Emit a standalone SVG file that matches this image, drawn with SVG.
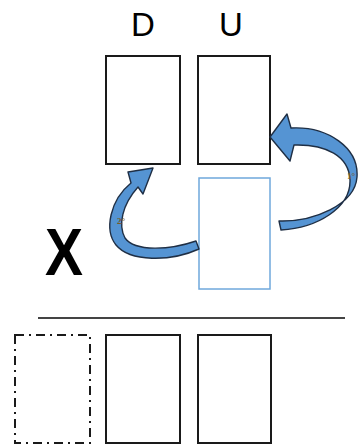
<svg xmlns="http://www.w3.org/2000/svg" width="358" height="446" viewBox="0 0 358 446">
<style>
.box{fill:#fff;stroke:#1a1a1a;stroke-width:2}
.blue{fill:#fff;stroke:#6fa8dc;stroke-width:1.5}
.dash{fill:none;stroke:#1a1a1a;stroke-width:2;stroke-dasharray:9 5 2 5}
.arrow{fill:#5594d3;stroke:#1f2f45;stroke-width:1.4;stroke-linejoin:round}
.lbl{font-family:"Liberation Sans",Arial,sans-serif;fill:#000}
.ord{font-family:"Liberation Serif",serif;font-size:9px;font-weight:bold;fill:#7a5a25}
</style>
<rect width="358" height="446" fill="#fff"/>
<g id="label-D"><text class="lbl" x="143" y="36" font-size="33" text-anchor="middle">D</text></g>
<g id="label-U"><text class="lbl" x="231" y="36" font-size="33" text-anchor="middle">U</text></g>
<g id="label-X"><text class="lbl" x="45" y="275" font-size="66" font-weight="bold" textLength="38" lengthAdjust="spacingAndGlyphs">X</text></g>
<g id="box-D"><rect class="box" x="106" y="56" width="74" height="108"/></g>
<g id="box-U"><rect class="box" x="198" y="56" width="72" height="108"/></g>
<g id="box-blue"><rect class="blue" x="199" y="178" width="71" height="111"/></g>
<g id="divider"><line x1="38" y1="318" x2="345" y2="318" stroke="#444" stroke-width="2"/></g>
<g id="box-dashed"><rect class="dash" x="15" y="335" width="75" height="108"/></g>
<g id="box-bottom-1"><rect class="box" x="106" y="335" width="74" height="108"/></g>
<g id="box-bottom-2"><rect class="box" x="198" y="335" width="73" height="108"/></g>
<g id="connectors">
<path class="arrow" d="M270 137 L287 114 L291 128 C328 126 359 148 357 177 C355 205 313 222 279 221 L281 230 C317 228 351 208 350 180 C349 156 326 144 294 145 L290 161 Z"/>
<path class="arrow" d="M153 168 L143 194 L138 187 C122 205 118 225 125 238 C135 252 170 250 196 241 L199 249 C170 262 130 262 116 245 C104 230 110 200 131 183 L128 172 Z"/>
<text class="ord" x="347" y="179">1°</text>
<text class="ord" x="117" y="224">2°</text>
</g>
</svg>
